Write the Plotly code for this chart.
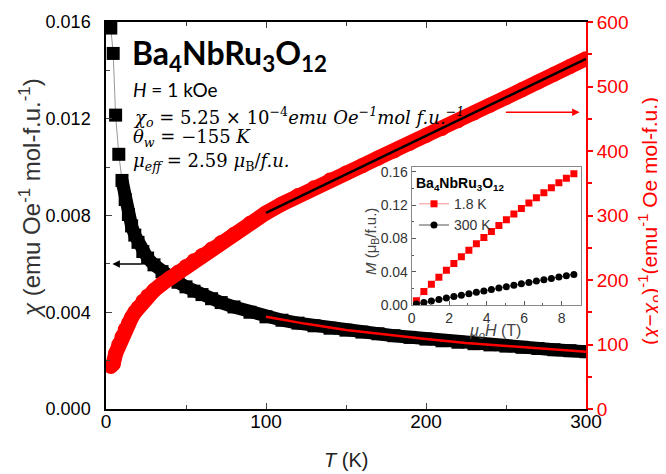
import plotly.graph_objects as go

# ---------------- data ----------------
T = [3, 4.5, 6, 8, 10, 12, 14, 16, 18, 20, 23, 26, 30, 35, 40, 45, 50, 55, 60, 66, 72, 80, 90,
     100, 110, 120, 130, 140, 150, 160, 170, 180, 190, 200, 210, 220, 230, 240, 250, 260, 270,
     280, 290, 300]
chi = [0.01575, 0.01470, 0.01215, 0.01053, 0.00945, 0.00866, 0.00804, 0.00757, 0.00719, 0.00689,
       0.00651, 0.00624, 0.00596, 0.00568, 0.00545, 0.00524, 0.00505, 0.00487, 0.00473, 0.00456,
       0.00440, 0.00422, 0.00400,
       0.00381, 0.00367, 0.00355, 0.00344, 0.00334, 0.00326, 0.00318, 0.00311, 0.00303, 0.00296,
       0.00289, 0.00282, 0.00276, 0.00270, 0.00265, 0.00260, 0.00255, 0.00250, 0.00245, 0.00241,
       0.00237]
inv_chi = [66, 70, 86, 100, 112, 123, 133, 142, 150, 157, 167, 175, 184, 194, 203, 212, 221, 230,
           238, 248, 258, 271, 288,
           304, 318, 331, 343, 355, 366, 377, 389, 400, 412, 424, 435, 447, 459, 471, 483, 495,
           507, 519, 531, 543]

fit_T = [100, 125, 150, 175, 200, 225, 250, 275, 300]
chi_fit = [0.00381, 0.00352, 0.00327, 0.00307, 0.00289, 0.00273, 0.00260, 0.00248, 0.00237]
lin_T = [100, 300]
inv_fit = [304, 543]

H = [0.25, 0.65, 1.05, 1.45, 1.85, 2.25, 2.65, 3.05, 3.45, 3.85, 4.25, 4.65, 5.05, 5.45, 5.85,
     6.25, 6.65, 7.05, 7.45, 7.85, 8.25, 8.65]
M_18K = [0.005, 0.0161, 0.0248, 0.0333, 0.0417, 0.0499, 0.0579, 0.0658, 0.0734, 0.0809, 0.0882,
         0.0954, 0.1024, 0.1092, 0.1159, 0.1223, 0.1287, 0.1348, 0.1408, 0.1466, 0.1522, 0.1576]
M_300K = [0.0012, 0.0030, 0.0048, 0.0066, 0.0084, 0.0101, 0.0118, 0.0135, 0.0152, 0.0169, 0.0186,
          0.0203, 0.0220, 0.0237, 0.0254, 0.0271, 0.0287, 0.0303, 0.0319, 0.0335, 0.0351, 0.0367]

x_ticks = [0, 100, 200, 300]
y_ticks = [0.000, 0.004, 0.008, 0.012, 0.016]
y2_ticks = [0, 100, 200, 300, 400, 500, 600]

# ---------------- layout helpers ----------------
OFF = 8                      # page body margin
W, Hh = 666 - OFF, 474 - OFF
PL, PR, PT, PB = 106, 586, 22, 409   # plot area in page pixels
PW, PH = PR - PL, PB - PT
L, T_M = PL - OFF, PT - OFF
R = W - L - PW
B = Hh - T_M - PH


def px(x):
    return (x - PL) / PW


def py(y):
    return (PB - y) / PH


SANS = "Liberation Sans, Arial, sans-serif"
SERIF = "DejaVu Serif, serif"
CAL = "Lato, Open Sans, sans-serif"
RED = "#ff0000"

fig = go.Figure()

i10 = T.index(10)
fig.add_trace(go.Scatter(x=T, y=chi, mode="lines", line=dict(color="#999999", width=1),
                         showlegend=False, xaxis="x", yaxis="y"))
fig.add_trace(go.Scatter(x=T[i10:], y=chi[i10:], mode="lines", line=dict(color="black", width=13),
                         showlegend=False, xaxis="x", yaxis="y"))
fig.add_trace(go.Scatter(x=T, y=chi, mode="markers",
                         marker=dict(symbol="square", size=13, color="black"),
                         showlegend=False, xaxis="x", yaxis="y"))
fig.add_trace(go.Scatter(x=fit_T, y=chi_fit, mode="lines", line=dict(color=RED, width=2.5),
                         showlegend=False, xaxis="x", yaxis="y"))
fig.add_trace(go.Scatter(x=T, y=inv_chi, mode="lines+markers", line=dict(color=RED, width=15),
                         marker=dict(symbol="circle", size=15, color=RED),
                         showlegend=False, xaxis="x", yaxis="y2"))
fig.add_trace(go.Scatter(x=lin_T, y=inv_fit, mode="lines", line=dict(color="black", width=2.5),
                         showlegend=False, xaxis="x", yaxis="y2"))
fig.add_trace(go.Scatter(x=H, y=M_18K, mode="lines+markers", name="1.8 K",
                         line=dict(color="#ff9090", width=1),
                         marker=dict(symbol="square", size=7, color=RED),
                         xaxis="x2", yaxis="y3"))
fig.add_trace(go.Scatter(x=H, y=M_300K, mode="lines+markers", name="300 K",
                         line=dict(color="#555555", width=1),
                         marker=dict(symbol="circle", size=7, color="black"),
                         xaxis="x2", yaxis="y3"))

inset_x0, inset_x1 = px(411.7), px(581)
inset_y0, inset_y1 = py(305), py(166.7)

GRAY = "#555555"
fig.update_layout(
    width=W, height=Hh,
    margin=dict(l=L, r=R, t=T_M, b=B, autoexpand=False),
    paper_bgcolor="white", plot_bgcolor="white",
    font=dict(family=SANS, size=18, color="black"),
    xaxis=dict(range=[0, 300], tickvals=x_ticks, ticks="inside", ticklen=6, tickwidth=1.2,
               showline=True, linecolor="black", linewidth=1.5, mirror="ticks", automargin=False,
               minor=dict(dtick=50, ticks="inside", ticklen=4, tickwidth=1.2),
               showgrid=False, zeroline=False, tickfont=dict(size=19), ticklabelstandoff=-6),
    yaxis=dict(range=[0, 0.016], tickvals=y_ticks, tickformat=".3f", ticks="inside", ticklen=6,
               tickwidth=1.2, showline=True, linecolor="black", linewidth=1.5, automargin=False,
               minor=dict(dtick=0.002, ticks="inside", ticklen=4, tickwidth=1.2),
               showgrid=False, zeroline=False, tickfont=dict(size=18), ticklabelstandoff=10),
    yaxis2=dict(range=[0, 600], tickvals=y2_ticks, overlaying="y", side="right", ticks="outside",
                ticklen=5, tickwidth=1.5, tickcolor=RED, showline=True, linecolor=RED,
                linewidth=2, minor=dict(dtick=50, ticks="outside", ticklen=4, tickcolor=RED),
                automargin=False,
                showgrid=False, zeroline=False, tickfont=dict(size=19, color=RED)),
    xaxis2=dict(domain=[inset_x0, inset_x1], anchor="y3", range=[0, 9.03], tickvals=[0, 2, 4, 6, 8],
                ticks="inside", ticklen=4, tickcolor=GRAY, showline=True, linecolor="#888888",
                linewidth=1, mirror=True, minor=dict(dtick=1, ticks="inside", ticklen=2, tickcolor=GRAY),
                automargin=False,
                showgrid=False, zeroline=False, tickfont=dict(size=14, color="#333333")),
    yaxis3=dict(domain=[inset_y0, inset_y1], anchor="x2", range=[0, 0.166],
                tickvals=[0, 0.04, 0.08, 0.12, 0.16], tickformat=".2f",
                ticks="inside", ticklen=4, tickcolor=GRAY, showline=True, linecolor="#888888",
                linewidth=1, mirror=True, minor=dict(dtick=0.02, ticks="inside", ticklen=2, tickcolor=GRAY),
                automargin=False,
                showgrid=False, zeroline=False, tickfont=dict(size=14, color="#333333")),
    legend=dict(x=px(414), y=py(170), xanchor="left", yanchor="top", bgcolor="rgba(0,0,0,0)",
                font=dict(size=14, color="#333333", family=SANS), itemwidth=30,
                title=dict(text="<b>Ba<sub>4</sub>NbRu<sub>3</sub>O<sub>12</sub></b>",
                           font=dict(size=14, color="black"), side="top"),
                tracegroupgap=0),
)

ann = []


def add(text, x, y, size, color="black", family=SANS, xanchor="left", angle=0, yanchor="middle"):
    ann.append(dict(text=text, x=px(x), y=py(y), xref="paper", yref="paper", showarrow=False,
                    xanchor=xanchor, yanchor=yanchor, textangle=angle,
                    font=dict(size=size, color=color, family=family)))


add("<b>Ba<sub>4</sub>NbRu<sub>3</sub>O<sub>12</sub></b>", 130, 55, 32, family=CAL)
add("<i>H</i> = 1 kOe", 131, 89, 19, family=CAL)
add("<i>χ<sub>o</sub></i> = 5.25 × 10<sup>−4</sup><i>emu Oe<sup>−1</sup>mol f.u.<sup>−1</sup></i>",
    131, 117, 18, family=SERIF)
add("<i>θ<sub>w</sub></i> = −155 <i>K</i>", 131, 138, 18, family=SERIF)
add("<i>μ<sub>eff</sub></i> = 2.59 <i>μ</i><sub>B</sub>/<i>f.u.</i>", 131, 162, 18, family=SERIF)

add("<i>T</i> (K)", 346, 460, 20, color="#222222", xanchor="center")
add("<i>χ</i> (emu Oe<sup>-1</sup> mol-f.u.<sup>-1</sup>)", 30, 198, 24, color="#333333",
    xanchor="center", angle=-90)
add("(<i>χ</i>−<i>χ</i><sub>o</sub>)<sup>-1</sup>(emu<sup>-1</sup> Oe mol-f.u.)", 649, 221, 21,
    color=RED, xanchor="center", angle=-90)
add("<i>M</i> (μ<sub>B</sub>/f.u.)", 371, 242, 15, color="#444444", xanchor="center", angle=-90)
add("<i>μ<sub>o</sub>H</i> (T)", 495, 331, 16, color="#444444", xanchor="center")

ann.append(dict(x=4, y=0.006, ax=23, ay=0.006, xref="x", yref="y", axref="x", ayref="y",
                showarrow=True, arrowhead=2, arrowsize=1, arrowwidth=1.5, arrowcolor="black", text=""))
ann.append(dict(x=296, y=460, ax=249, ay=460, xref="x", yref="y2", axref="x", ayref="y2",
                showarrow=True, arrowhead=2, arrowsize=1, arrowwidth=1.5, arrowcolor=RED, text=""))

fig.update_layout(annotations=ann)
fig.write_html("out.html")
